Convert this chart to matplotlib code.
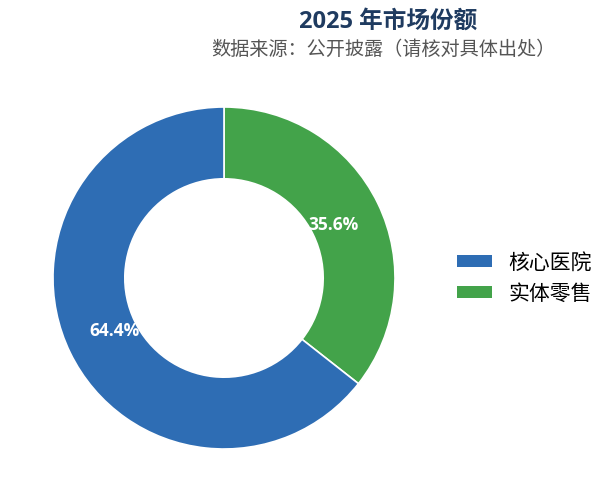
import matplotlib
matplotlib.use("Agg")
import matplotlib.pyplot as plt
from matplotlib.patches import Patch

plt.rcParams['font.family'] = ['Noto Sans CJK SC', 'DejaVu Sans']

# chart data
categories = ['核心医院', '实体零售']
shares = [64.4, 35.6]
colors = ['#2E6DB4', '#43A34A']
title = '2025 年市场份额'
subtitle = '数据来源：公开披露（请核对具体出处）'

fig = plt.figure(figsize=(6.05, 5.03), dpi=100)

# donut axes, sized so the ring sits where the reference draws it
ax = fig.add_axes([53 / 605, 54 / 503, 342 / 605, 342 / 503])

# plot green first (clockwise from 12 o'clock), blue after
order = [1, 0]
wedges, texts, autotexts = ax.pie(
    [shares[i] for i in order],
    colors=[colors[i] for i in order],
    startangle=90,
    counterclock=False,
    radius=1.0,
    autopct='%1.1f%%',
    pctdistance=0.71,
    wedgeprops=dict(width=0.42, edgecolor='white', linewidth=1.2),
    textprops=dict(color='white', fontsize=12.5, fontweight='bold',
                   family=['Open Sans', 'DejaVu Sans']),
)
ax.set_xlim(-1, 1)
ax.set_ylim(-1, 1)
ax.set_aspect('equal')
ax.axis('off')

fig.text(388 / 605, 1 - 22 / 503, title, ha='center', va='center',
         fontsize=17, fontweight='bold', color='#1F3B60',
         family=['Open Sans', 'Noto Sans CJK SC'])
fig.text(383 / 605, 1 - 49 / 503, subtitle, ha='center', va='center',
         fontsize=13.8, color='#555555')

handles = [Patch(facecolor=colors[i], edgecolor='none') for i in range(len(categories))]
fig.legend(handles, categories, loc='center left', bbox_to_anchor=(457 / 605, 1 - 278 / 503),
           frameon=False, fontsize=15, handlelength=1.7, handleheight=0.5,
           handletextpad=0.75, labelspacing=0.45, borderpad=0, borderaxespad=0)

fig.savefig('out.png', dpi=100, facecolor='white')
